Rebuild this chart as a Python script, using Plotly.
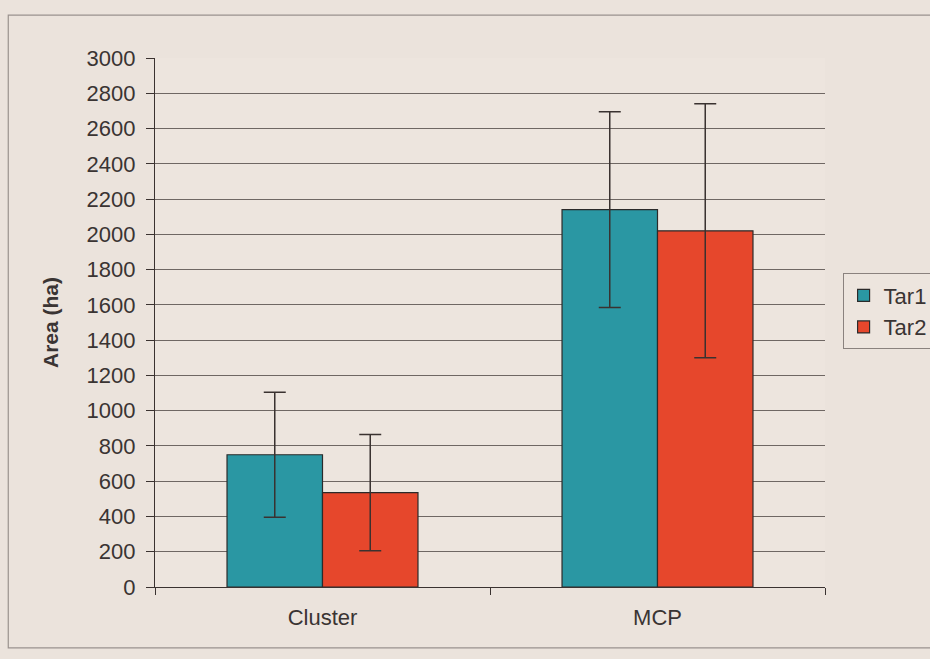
import plotly.graph_objects as go

categories = ["Cluster", "MCP"]
tar1_values = [750, 2140]
tar1_errors = [355, 555]
tar2_values = [535, 2020]
tar2_errors = [330, 720]
y_ticks = list(range(0, 3001, 200))

teal = "#2a97a3"
red = "#e6472c"
ink = "#3a3230"
bg = "#ebe3dc"

fig = go.Figure()
fig.add_trace(go.Bar(
    name="Tar1", x=categories, y=tar1_values,
    marker=dict(color=teal, line=dict(color="#2b2a2a", width=1.2)),
    error_y=dict(type="data", array=tar1_errors, visible=True,
                 color=ink, thickness=1.5, width=11),
))
fig.add_trace(go.Bar(
    name="Tar2", x=categories, y=tar2_values,
    marker=dict(color=red, line=dict(color="#2b2a2a", width=1.2)),
    error_y=dict(type="data", array=tar2_errors, visible=True,
                 color=ink, thickness=1.5, width=11),
))

fig.update_layout(
    width=930, height=659,
    margin=dict(l=155, r=105, t=58, b=72, autoexpand=False),
    paper_bgcolor=bg,
    plot_bgcolor="#ede5de",
    barmode="group", bargap=0.43, bargroupgap=0,
    font=dict(family="Liberation Sans, Arial, sans-serif", size=22, color="#3a3433"),
    legend=dict(xref="container", yref="container", x=0.906, y=0.585,
                xanchor="left", yanchor="top",
                bordercolor="#8a827e", borderwidth=1, bgcolor="#ede5de",
                font=dict(size=22), itemwidth=30),
    showlegend=True,
    shapes=[dict(type="rect", xref="paper", yref="paper",
                 x0=-0.219, x1=1.25, y0=-0.115, y1=1.081,
                 line=dict(color="#9a928e", width=1.2))],
)
fig.update_yaxes(
    range=[0, 3000], tickvals=y_ticks, ticks="outside", ticklen=8,
    tickcolor=ink, showgrid=True, gridcolor="#6f6763", gridwidth=1,
    showline=True, linecolor=ink, linewidth=1.2, zeroline=False,
    ticklabelstandoff=6,
    title=dict(text="<b>Area (ha)</b>", font=dict(size=21), standoff=22),
)
fig.update_xaxes(
    showline=True, linecolor=ink, linewidth=1.2, ticks="outside",
    tickson="boundaries", ticklen=7, tickcolor=ink,
    tickfont=dict(size=22), ticklabelstandoff=10,
)

fig.write_html(
    "out.html",
    config={"displayModeBar": False},
    post_script="document.body.style.margin='0';document.body.style.background='%s';" % bg,
)
